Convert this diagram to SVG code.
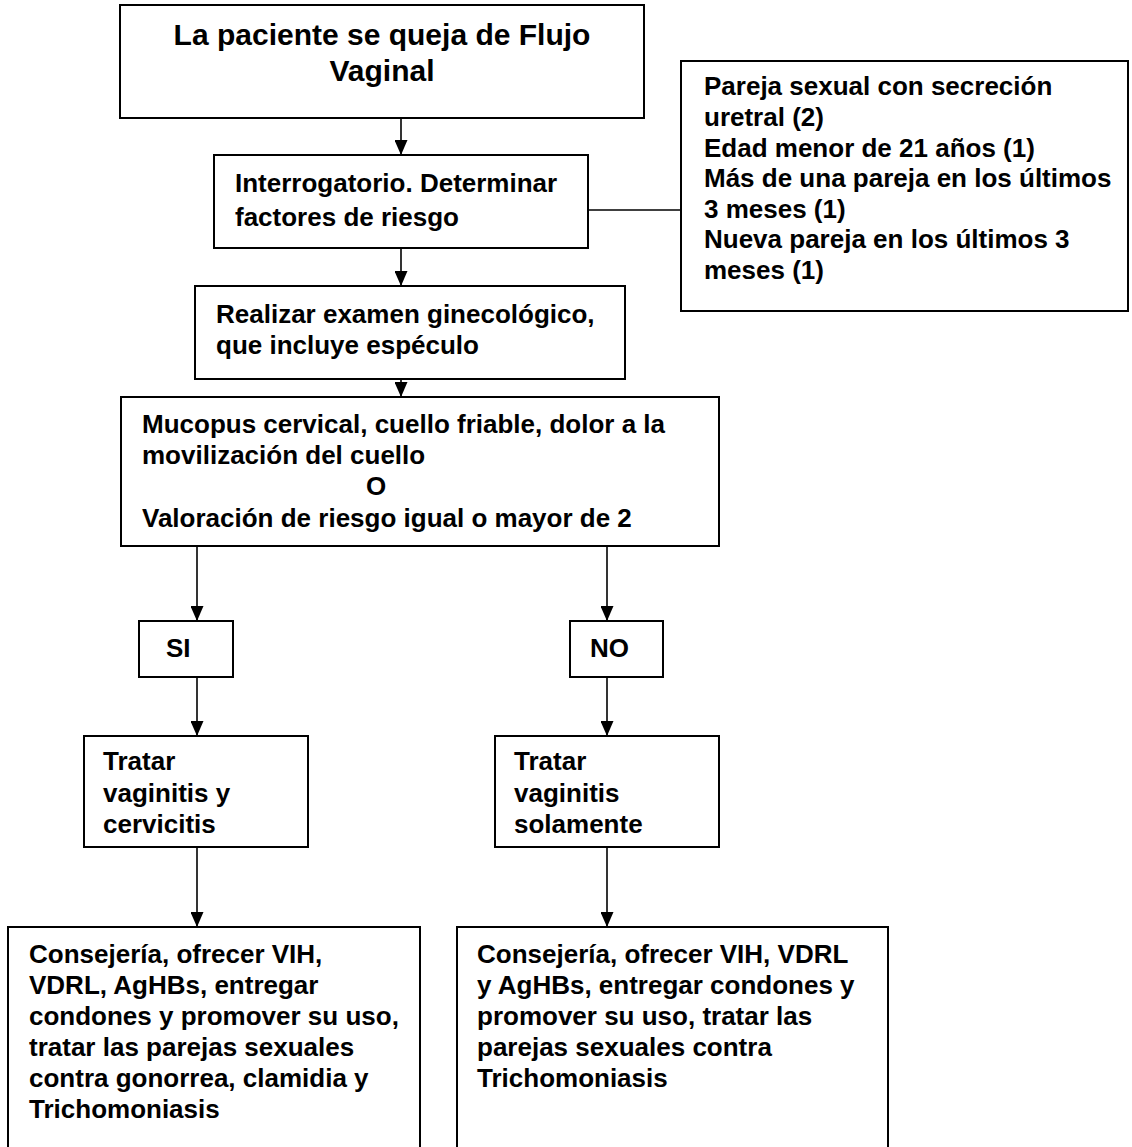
<svg xmlns="http://www.w3.org/2000/svg" width="1132" height="1147" viewBox="0 0 1132 1147">
<defs>
<style>
.box{fill:#fff;stroke:#000;stroke-width:2}
.t{font-family:"Liberation Sans",Arial,sans-serif;font-weight:bold;font-size:26px;fill:#000}
.title{font-size:30px}
.c{fill:none;stroke:#000;stroke-width:1.6}
</style>
<marker id="arr" markerUnits="userSpaceOnUse" markerWidth="15" markerHeight="13" refX="15" refY="6.5" orient="auto">
<path d="M0,0 L15,6.5 L0,13 Z" fill="#000"/>
</marker>
</defs>
<rect width="1132" height="1147" fill="#fff"/>
<g id="connectors">
<line class="c" x1="401" y1="118" x2="401" y2="155" marker-end="url(#arr)"/>
<line class="c" x1="588" y1="210" x2="681" y2="210"/>
<line class="c" x1="401" y1="248" x2="401" y2="286" marker-end="url(#arr)"/>
<line class="c" x1="401" y1="379" x2="401" y2="397" marker-end="url(#arr)"/>
<line class="c" x1="197" y1="546" x2="197" y2="621" marker-end="url(#arr)"/>
<line class="c" x1="607" y1="546" x2="607" y2="621" marker-end="url(#arr)"/>
<line class="c" x1="197" y1="677" x2="197" y2="736" marker-end="url(#arr)"/>
<line class="c" x1="607" y1="677" x2="607" y2="736" marker-end="url(#arr)"/>
<line class="c" x1="197" y1="847" x2="197" y2="927" marker-end="url(#arr)"/>
<line class="c" x1="607" y1="847" x2="607" y2="927" marker-end="url(#arr)"/>
</g>
<g id="n-start">
<rect class="box" x="120" y="5" width="524" height="113"/>
<text class="t title" x="382" y="45" text-anchor="middle">La paciente se queja de Flujo</text>
<text class="t title" x="382" y="81" text-anchor="middle">Vaginal</text>
</g>
<g id="n-interrogatorio">
<rect class="box" x="214" y="155" width="374" height="93"/>
<text class="t" x="235" y="192">Interrogatorio. Determinar</text>
<text class="t" x="235" y="226">factores de riesgo</text>
</g>
<g id="n-factores">
<rect class="box" x="681" y="61" width="447" height="250"/>
<text class="t" x="704" y="95">Pareja sexual con secreción</text>
<text class="t" x="704" y="126">uretral (2)</text>
<text class="t" x="704" y="157">Edad menor de 21 años (1)</text>
<text class="t" x="704" y="187">Más de una pareja en los últimos</text>
<text class="t" x="704" y="218">3 meses (1)</text>
<text class="t" x="704" y="248">Nueva pareja en los últimos 3</text>
<text class="t" x="704" y="279">meses (1)</text>
</g>
<g id="n-examen">
<rect class="box" x="195" y="286" width="430" height="93"/>
<text class="t" x="216" y="323">Realizar examen ginecológico,</text>
<text class="t" x="216" y="354">que incluye espéculo</text>
</g>
<g id="n-criterio">
<rect class="box" x="121" y="397" width="598" height="149"/>
<text class="t" x="142" y="433">Mucopus cervical, cuello friable, dolor a la</text>
<text class="t" x="142" y="464">movilización del cuello</text>
<text class="t" x="366" y="495">O</text>
<text class="t" x="142" y="527">Valoración de riesgo igual o mayor de 2</text>
</g>
<g id="n-si">
<rect class="box" x="139" y="621" width="94" height="56"/>
<text class="t" x="166" y="657">SI</text>
</g>
<g id="n-no">
<rect class="box" x="570" y="621" width="93" height="56"/>
<text class="t" x="590" y="657">NO</text>
</g>
<g id="n-tratar-si">
<rect class="box" x="84" y="736" width="224" height="111"/>
<text class="t" x="103" y="770">Tratar</text>
<text class="t" x="103" y="802">vaginitis y</text>
<text class="t" x="103" y="833">cervicitis</text>
</g>
<g id="n-tratar-no">
<rect class="box" x="495" y="736" width="224" height="111"/>
<text class="t" x="514" y="770">Tratar</text>
<text class="t" x="514" y="802">vaginitis</text>
<text class="t" x="514" y="833">solamente</text>
</g>
<g id="n-consejeria-si">
<rect class="box" x="8" y="927" width="412" height="240"/>
<text class="t" x="29" y="963">Consejería, ofrecer VIH,</text>
<text class="t" x="29" y="994">VDRL, AgHBs, entregar</text>
<text class="t" x="29" y="1025">condones y promover su uso,</text>
<text class="t" x="29" y="1056">tratar las parejas sexuales</text>
<text class="t" x="29" y="1087">contra gonorrea, clamidia y</text>
<text class="t" x="29" y="1118">Trichomoniasis</text>
</g>
<g id="n-consejeria-no">
<rect class="box" x="457" y="927" width="431" height="240"/>
<text class="t" x="477" y="963">Consejería, ofrecer VIH, VDRL</text>
<text class="t" x="477" y="994">y AgHBs, entregar condones y</text>
<text class="t" x="477" y="1025">promover su uso, tratar las</text>
<text class="t" x="477" y="1056">parejas sexuales contra</text>
<text class="t" x="477" y="1087">Trichomoniasis</text>
</g>
</svg>
